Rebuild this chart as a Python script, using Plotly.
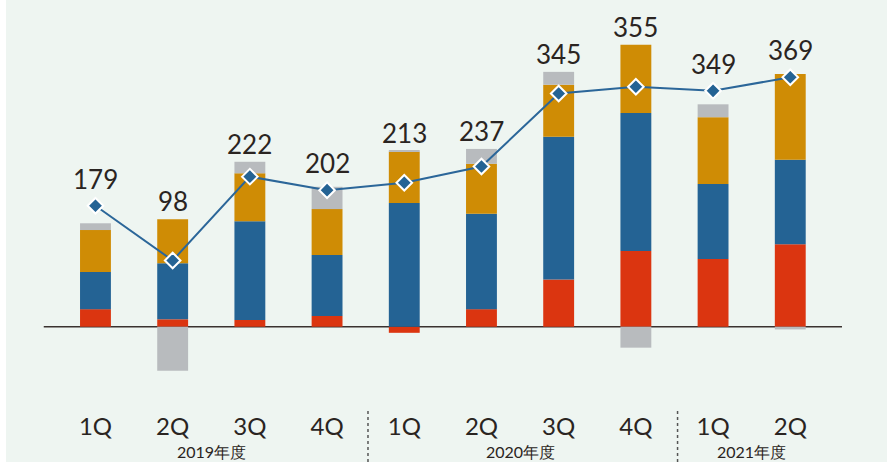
import plotly.graph_objects as go

quarters = ["1Q", "2Q", "3Q", "4Q", "1Q", "2Q", "3Q", "4Q", "1Q", "2Q"]
years = ["2019年度", "2020年度", "2021年度"]
year_centers = [1.5, 5.5, 8.5]
separators = [3.53, 7.54]

red = [26, 11, 10, 16, -9, 26, 70, 112, 100, 122]
blue = [55, 83, 146, 90, 183, 141, 211, 204, 111, 125]
gold = [62, 65, 71, 68, 76, 74, 77, 101, 99, 127]
gray = [10, -65, 17, 33, 1.5, 22, 19, -31, 19, -4]
total = [179, 98, 222, 202, 213, 237, 345, 355, 349, 369]

x = list(range(len(quarters)))
TEXT = "#2a2421"
FONT = "Lato"

fig = go.Figure()
for vals, col in [(red, "#db3510"), (blue, "#246394"), (gold, "#cf8c05"), (gray, "#b8bbbe")]:
    fig.add_trace(go.Bar(x=x, y=vals, marker=dict(color=col, line=dict(width=0)),
                         width=0.4, showlegend=False, hoverinfo="skip"))

fig.add_trace(go.Scatter(x=x, y=total, mode="lines+markers",
                         line=dict(color="#2b6699", width=2),
                         marker=dict(symbol="diamond", size=12, color="#246394",
                                     line=dict(color="white", width=2)),
                         showlegend=False, hoverinfo="skip"))

# value labels above the higher of bar top and marker
for i, v in enumerate(total):
    pos_top = sum(s[i] for s in (red, blue, gold, gray) if s[i] > 0)
    top = max(pos_top, v + 13)
    fig.add_annotation(x=i, y=top, yref="y", text=str(v), showarrow=False,
                       yanchor="bottom", yshift=0,
                       font=dict(family=FONT, size=26, color=TEXT))

for xc, t in zip(year_centers, years):
    fig.add_annotation(x=xc, y=0.022, yref="paper", text=t, showarrow=False,
                       yanchor="middle", font=dict(family=FONT, size=16, color=TEXT))

for s in separators:
    fig.add_shape(type="line", xref="x", yref="paper", x0=s, x1=s, y0=0, y1=0.115,
                  line=dict(color="#555", width=1.5, dash="dot"))

fig.add_shape(type="line", xref="x", yref="y", x0=-0.67, x1=9.67, y0=0, y1=0,
              line=dict(color="#3a3230", width=1.5), layer="below")

fig.update_layout(
    width=887, height=462,
    margin=dict(l=6, r=0, t=0, b=0),
    paper_bgcolor="#ffffff", plot_bgcolor="#eef5f1",
    barmode="relative",
    xaxis=dict(range=[-1.159, 10.253], tickvals=x, ticktext=quarters,
               tickfont=dict(family=FONT, size=24, color=TEXT),
               showgrid=False, zeroline=False, showline=False, ticks="",
               anchor="free", position=0.112),
    yaxis=dict(range=[-200.1, 483.3], visible=False, showgrid=False, zeroline=False),
)

fig.write_html("out.html", config={"displayModeBar": False},
               post_script="document.body.style.margin='0';document.body.style.overflow='hidden';")
